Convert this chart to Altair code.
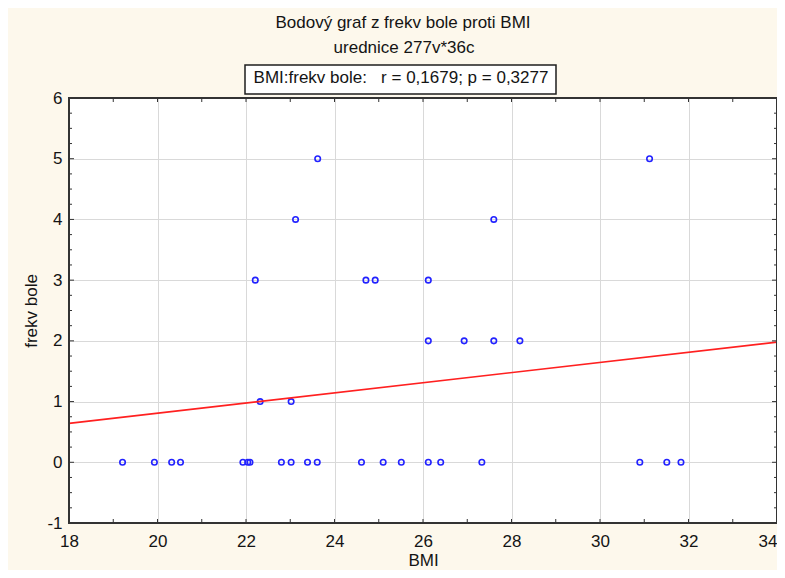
import altair as alt
import pandas as pd

# ---- data ----
bmi = [19.21, 19.93, 20.32, 20.52, 21.93, 22.04, 22.09, 22.80, 23.02, 23.39,
       23.61, 24.61, 25.10, 25.51, 26.12, 26.40, 27.33, 30.90, 31.51, 31.83,
       22.32, 23.02,
       26.12, 26.93, 27.60, 28.19,
       22.21, 24.71, 24.92, 26.12,
       23.12, 27.60,
       23.62, 31.12]
frekv = [0] * 20 + [1] * 2 + [2] * 4 + [3] * 4 + [4] * 2 + [5] * 2

line_bmi = [18, 34]
line_frekv = [0.64, 1.98]

x_label_values = [18, 20, 22, 24, 26, 28, 30, 32, 34]
y_label_values = [-1, 0, 1, 2, 3, 4, 5, 6]
x_tick_values = [18, 19, 20, 21, 22, 23, 24, 25, 26, 27, 28, 29, 30, 31, 32, 33, 34]
y_minor_ticks = [-0.75, -0.5, -0.25, 0.25, 0.5, 0.75, 1.25, 1.5, 1.75,
                 2.25, 2.5, 2.75, 3.25, 3.5, 3.75, 4.25, 4.5, 4.75,
                 5.25, 5.5, 5.75]

title_text = "Bodový graf z frekv bole proti BMI"
subtitle_text = "urednice 277v*36c"
corr_text = "BMI:frekv bole:\u00a0\u00a0 r = 0,1679; p = 0,3277"

F = "Liberation Sans, Arial, Helvetica, sans-serif"
TXT = "#141414"
W, H = 708, 425

df = pd.DataFrame({"BMI": bmi, "frekv": frekv})
line_df = pd.DataFrame({"BMI": line_bmi, "frekv": line_frekv})
xt_df = pd.DataFrame({"BMI": x_tick_values})
ymaj_df = pd.DataFrame({"frekv": y_label_values})
ymin_df = pd.DataFrame({"frekv": y_minor_ticks})
one = pd.DataFrame({"t": [title_text]})

xs = alt.Scale(domain=[18, 34], nice=False, zero=False)
ys = alt.Scale(domain=[-1, 6], nice=False, zero=False)

x_axis = alt.Axis(values=x_label_values, title="BMI", grid=True, gridColor="#d9d9d9",
                  gridWidth=1, ticks=False, domain=False, labelFontSize=17,
                  labelFont=F, labelColor=TXT, labelPadding=10, labelFlush=False,
                  labelExpr="toString(datum.value)",
                  labelAlign=alt.condition("datum.value == 34", alt.value("right"), alt.value("center")),
                  titleFontSize=17, titleFont=F, titleFontWeight="normal",
                  titleColor=TXT, titlePadding=3)
y_axis = alt.Axis(values=y_label_values, title="frekv bole", grid=True, gridColor="#d9d9d9",
                  gridWidth=1, ticks=False, domain=False, labelFontSize=17,
                  labelFont=F, labelColor=TXT, labelPadding=7, labelFlush=False,
                  labelExpr="toString(datum.value)",
                  titleFontSize=17, titleFont=F, titleFontWeight="normal",
                  titleColor=TXT, titlePadding=6)

X = alt.X("BMI:Q", scale=xs, axis=x_axis)
Y = alt.Y("frekv:Q", scale=ys, axis=y_axis)

points = alt.Chart(df).mark_point(
    shape="circle", filled=False, color="#2222ff", size=30, strokeWidth=1.6, opacity=1
).encode(x=X, y=Y)

fit = alt.Chart(line_df).mark_line(color="#ff2020", strokeWidth=1.7).encode(x=X, y=Y)

TC = "#333333"
xt_bottom = alt.Chart(xt_df).mark_rule(color=TC, strokeWidth=1).encode(
    x=X, y=alt.value(H), y2=alt.value(H - 4))
xt_top = alt.Chart(xt_df).mark_rule(color=TC, strokeWidth=1).encode(
    x=X, y=alt.value(0), y2=alt.value(4))
ymaj_left = alt.Chart(ymaj_df).mark_rule(color=TC, strokeWidth=1).encode(
    y=Y, x=alt.value(0), x2=alt.value(5))
ymin_left = alt.Chart(ymin_df).mark_rule(color=TC, strokeWidth=1).encode(
    y=Y, x=alt.value(0), x2=alt.value(3))
ymaj_right = alt.Chart(ymaj_df).mark_rule(color=TC, strokeWidth=1).encode(
    y=Y, x=alt.value(W), x2=alt.value(W - 5))
ymin_right = alt.Chart(ymin_df).mark_rule(color=TC, strokeWidth=1).encode(
    y=Y, x=alt.value(W), x2=alt.value(W - 3))

frame = alt.Chart(one).mark_rect(fillOpacity=0, stroke="#333333", strokeWidth=2).encode(
    x=alt.value(0), x2=alt.value(W), y=alt.value(0), y2=alt.value(H))

t1 = alt.Chart(one).mark_text(text=title_text, font=F, fontSize=17, color=TXT,
                              align="center", baseline="alphabetic").encode(
    x=alt.value(334), y=alt.value(-70))
t2 = alt.Chart(one).mark_text(text=subtitle_text, font=F, fontSize=17, color=TXT,
                              align="center", baseline="alphabetic").encode(
    x=alt.value(335), y=alt.value(-45))
box = alt.Chart(one).mark_rect(fill="white", stroke="#1e1e1e", strokeWidth=1.5).encode(
    x=alt.value(176), x2=alt.value(487), y=alt.value(-33), y2=alt.value(-4))
t3 = alt.Chart(one).mark_text(text=corr_text, font=F, fontSize=17, color=TXT,
                              align="center", baseline="alphabetic").encode(
    x=alt.value(332), y=alt.value(-15))

chart = alt.layer(
    points, fit, xt_bottom, xt_top, ymaj_left, ymin_left, ymaj_right, ymin_right,
    frame, box, t1, t2, t3
).properties(
    width=W, height=H, autosize="none",
    padding={"left": 61, "top": 90, "right": 0, "bottom": 47},
).configure(background="#fdf8ec").configure_view(strokeWidth=0, fill="white")

chart.save("out.html", embed_options={"renderer": "svg", "actions": False})
